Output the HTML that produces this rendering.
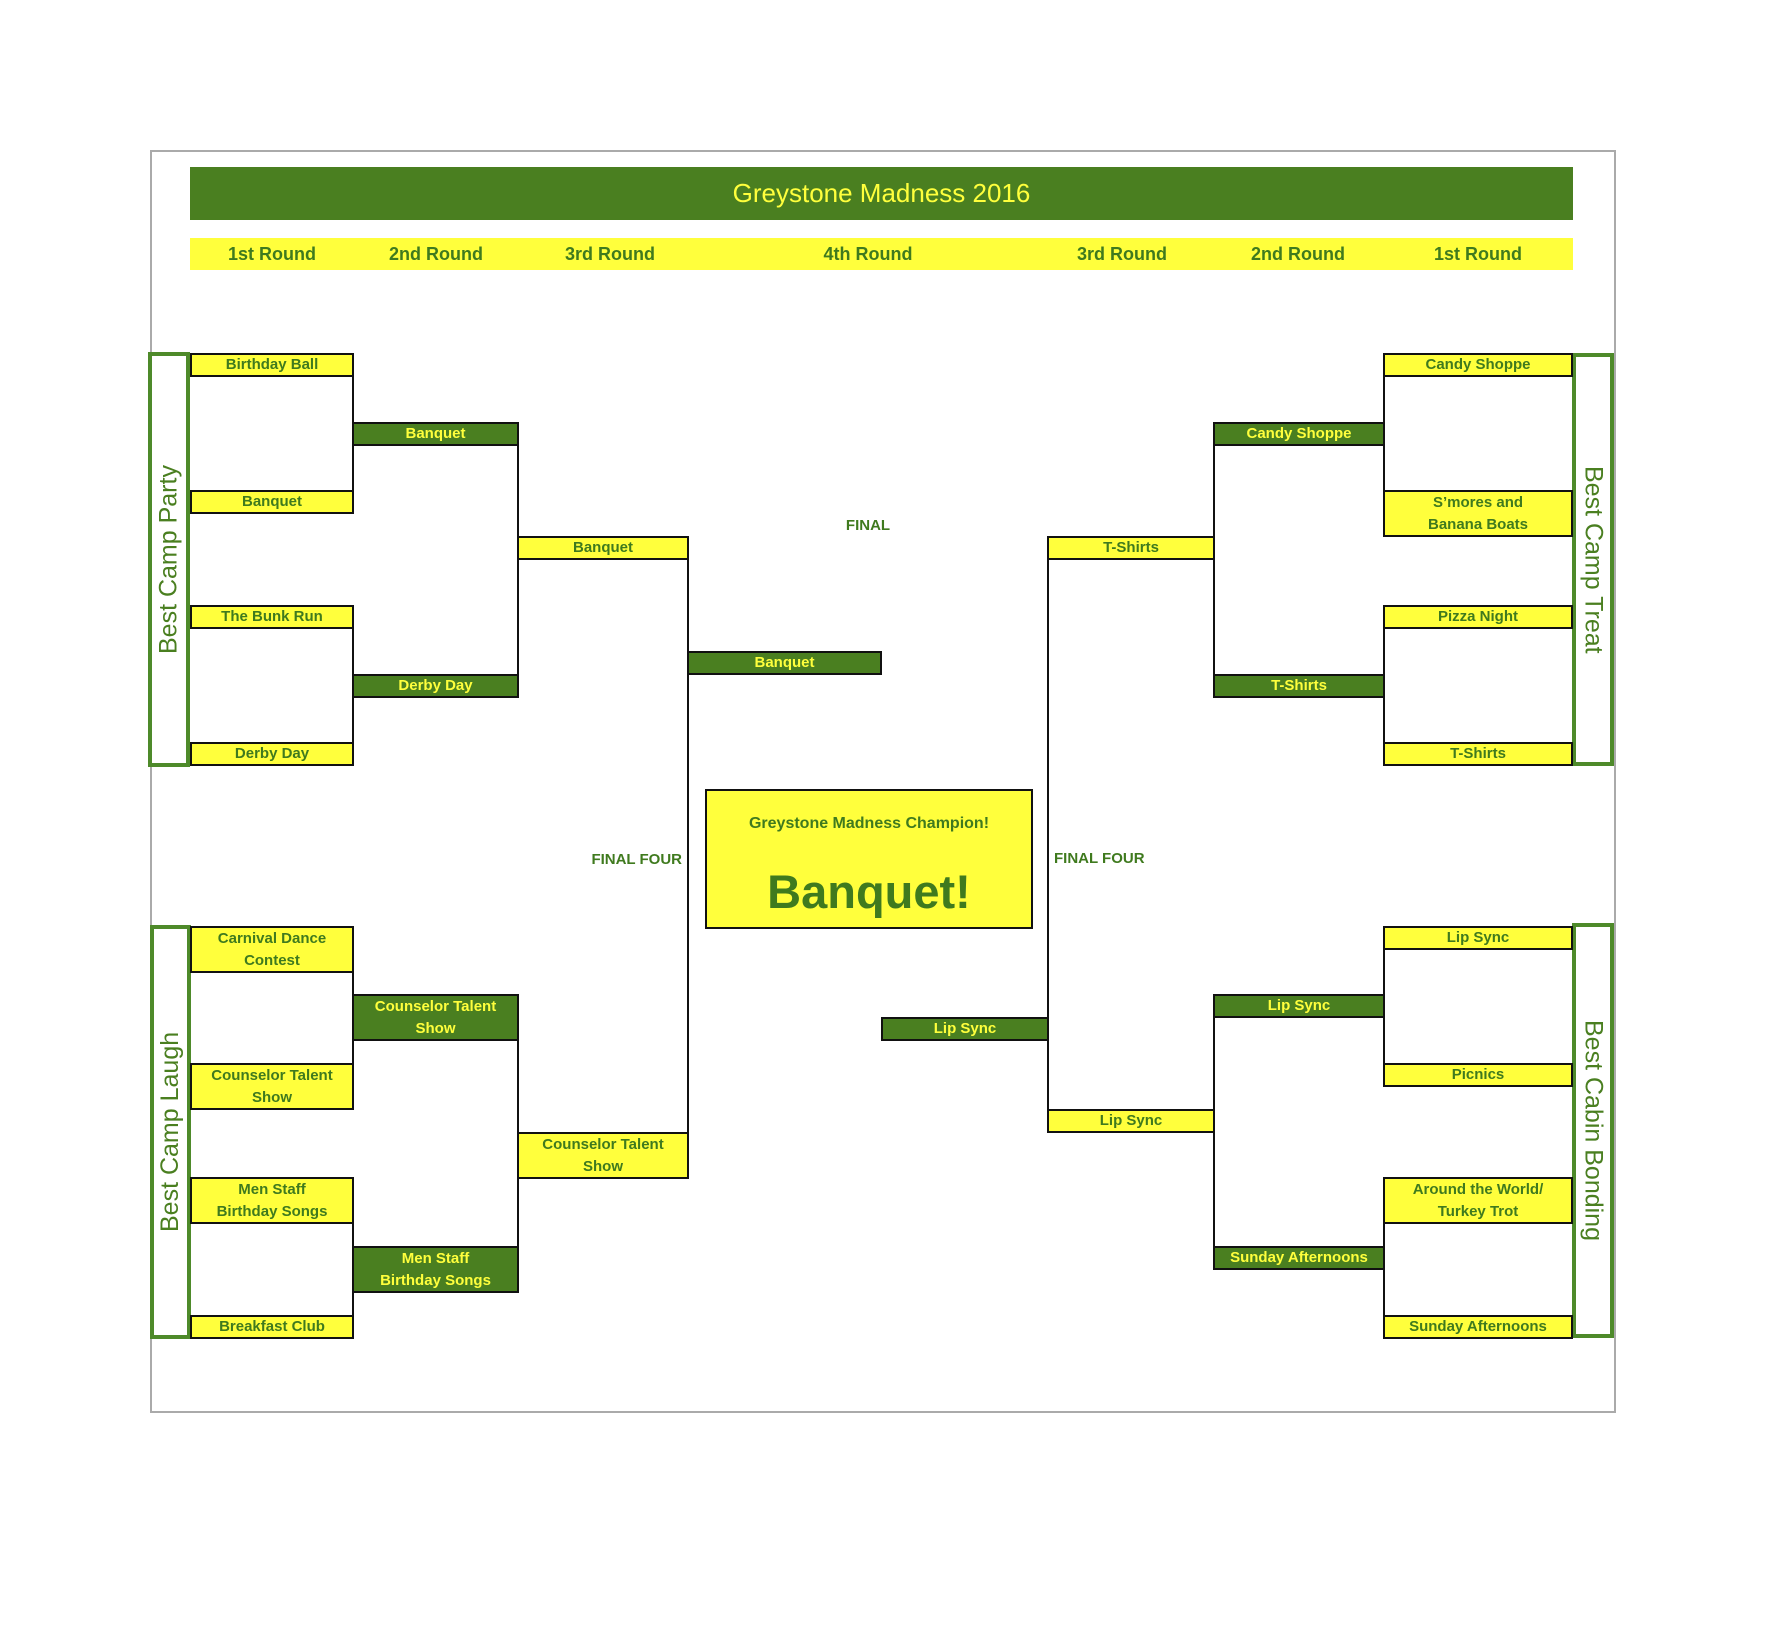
<!DOCTYPE html>
<html><head><meta charset="utf-8"><style>
body{margin:0;background:#fff;}
#p{position:relative;width:1768px;height:1650px;overflow:hidden;font-family:"Liberation Sans",sans-serif;}
.a{position:absolute;box-sizing:border-box;}
.b{position:absolute;box-sizing:border-box;border:2px solid #111;display:flex;align-items:center;justify-content:center;text-align:center;font-weight:bold;font-size:15px;line-height:22px;}
.y{background:#ffff3c;color:#3f7a1e;}
.g{background:#4a7f20;color:#ffff3c;}
.l{position:absolute;background:#111;width:2px;}
.cat{position:absolute;box-sizing:border-box;border:4px solid #4e8a2a;background:#fff;display:flex;align-items:center;justify-content:center;color:#4a7f20;font-size:25px;writing-mode:vertical-rl;}
.rl{transform:rotate(180deg);}
.rd{position:absolute;top:238px;height:32px;line-height:32px;font-weight:bold;font-size:18px;color:#3f7a1e;text-align:center;width:200px;}
.t{position:absolute;font-weight:bold;font-size:15px;color:#3f7a1e;}
</style></head><body><div id="p">
<div class="a" style="left:150px;top:150px;width:1466px;height:1263px;border:2px solid #aaa;"></div>
<div class="a" style="left:190px;top:167px;width:1383px;height:53px;background:#4a7f20;color:#ffff3c;font-size:26px;text-align:center;line-height:53px;">Greystone Madness 2016</div>
<div class="a" style="left:190px;top:238px;width:1383px;height:32px;background:#ffff3c;"></div>
<div class="rd" style="left:172px">1st Round</div>
<div class="rd" style="left:336px">2nd Round</div>
<div class="rd" style="left:510px">3rd Round</div>
<div class="rd" style="left:768px">4th Round</div>
<div class="rd" style="left:1022px">3rd Round</div>
<div class="rd" style="left:1198px">2nd Round</div>
<div class="rd" style="left:1378px">1st Round</div>

<div class="cat rl" style="left:148px;top:352px;width:42px;height:415px;">Best Camp Party</div>
<div class="cat rl" style="left:150px;top:925px;width:41px;height:414px;">Best Camp Laugh</div>
<div class="cat" style="left:1572px;top:353px;width:42px;height:413px;">Best Camp Treat</div>
<div class="cat" style="left:1572px;top:923px;width:42px;height:415px;">Best Cabin Bonding</div>

<div class="l" style="left:352px;top:353px;height:161px"></div>
<div class="l" style="left:352px;top:605px;height:161px"></div>
<div class="l" style="left:352px;top:926px;height:184px"></div>
<div class="l" style="left:352px;top:1177px;height:162px"></div>
<div class="l" style="left:517px;top:422px;height:276px"></div>
<div class="l" style="left:517px;top:994px;height:299px"></div>
<div class="l" style="left:687px;top:536px;height:643px"></div>
<div class="l" style="left:1047px;top:536px;height:597px"></div>
<div class="l" style="left:1213px;top:422px;height:276px"></div>
<div class="l" style="left:1213px;top:994px;height:276px"></div>
<div class="l" style="left:1383px;top:353px;height:184px"></div>
<div class="l" style="left:1383px;top:605px;height:161px"></div>
<div class="l" style="left:1383px;top:926px;height:161px"></div>
<div class="l" style="left:1383px;top:1177px;height:162px"></div>

<div class="b y" style="left:190px;top:353px;width:164px;height:24px">Birthday Ball</div>
<div class="b y" style="left:190px;top:490px;width:164px;height:24px">Banquet</div>
<div class="b y" style="left:190px;top:605px;width:164px;height:24px">The Bunk Run</div>
<div class="b y" style="left:190px;top:742px;width:164px;height:24px">Derby Day</div>
<div class="b y" style="left:190px;top:926px;width:164px;height:47px">Carnival Dance<br>Contest</div>
<div class="b y" style="left:190px;top:1063px;width:164px;height:47px">Counselor Talent<br>Show</div>
<div class="b y" style="left:190px;top:1177px;width:164px;height:47px">Men Staff<br>Birthday Songs</div>
<div class="b y" style="left:190px;top:1315px;width:164px;height:24px">Breakfast Club</div>

<div class="b g" style="left:352px;top:422px;width:167px;height:24px">Banquet</div>
<div class="b g" style="left:352px;top:674px;width:167px;height:24px">Derby Day</div>
<div class="b g" style="left:352px;top:994px;width:167px;height:47px">Counselor Talent<br>Show</div>
<div class="b g" style="left:352px;top:1246px;width:167px;height:47px">Men Staff<br>Birthday Songs</div>

<div class="b y" style="left:517px;top:536px;width:172px;height:24px">Banquet</div>
<div class="b y" style="left:517px;top:1132px;width:172px;height:47px">Counselor Talent<br>Show</div>

<div class="b g" style="left:687px;top:651px;width:195px;height:24px">Banquet</div>
<div class="b g" style="left:881px;top:1017px;width:168px;height:24px">Lip Sync</div>

<div class="b y" style="left:1047px;top:536px;width:168px;height:24px">T-Shirts</div>
<div class="b y" style="left:1047px;top:1109px;width:168px;height:24px">Lip Sync</div>

<div class="b g" style="left:1213px;top:422px;width:172px;height:24px">Candy Shoppe</div>
<div class="b g" style="left:1213px;top:674px;width:172px;height:24px">T-Shirts</div>
<div class="b g" style="left:1213px;top:994px;width:172px;height:24px">Lip Sync</div>
<div class="b g" style="left:1213px;top:1246px;width:172px;height:24px">Sunday Afternoons</div>

<div class="b y" style="left:1383px;top:353px;width:190px;height:24px">Candy Shoppe</div>
<div class="b y" style="left:1383px;top:490px;width:190px;height:47px">S’mores and<br>Banana Boats</div>
<div class="b y" style="left:1383px;top:605px;width:190px;height:24px">Pizza Night</div>
<div class="b y" style="left:1383px;top:742px;width:190px;height:24px">T-Shirts</div>
<div class="b y" style="left:1383px;top:926px;width:190px;height:24px">Lip Sync</div>
<div class="b y" style="left:1383px;top:1063px;width:190px;height:24px">Picnics</div>
<div class="b y" style="left:1383px;top:1177px;width:190px;height:47px">Around the World/<br>Turkey Trot</div>
<div class="b y" style="left:1383px;top:1315px;width:190px;height:24px">Sunday Afternoons</div>

<div class="t" style="left:818px;top:517px;width:100px;text-align:center">FINAL</div>
<div class="t" style="left:582px;top:851px;width:100px;text-align:right">FINAL FOUR</div>
<div class="t" style="left:1054px;top:850px;">FINAL FOUR</div>

<div class="a" style="left:705px;top:789px;width:328px;height:140px;background:#ffff3c;border:2px solid #111;color:#3f7a1e;text-align:center;font-weight:bold;">
<div style="position:absolute;left:0;right:0;top:24px;font-size:16px;">Greystone Madness Champion!</div>
<div style="position:absolute;left:0;right:0;top:73px;font-size:47px;line-height:56px;">Banquet!</div>
</div>
</div></body></html>
